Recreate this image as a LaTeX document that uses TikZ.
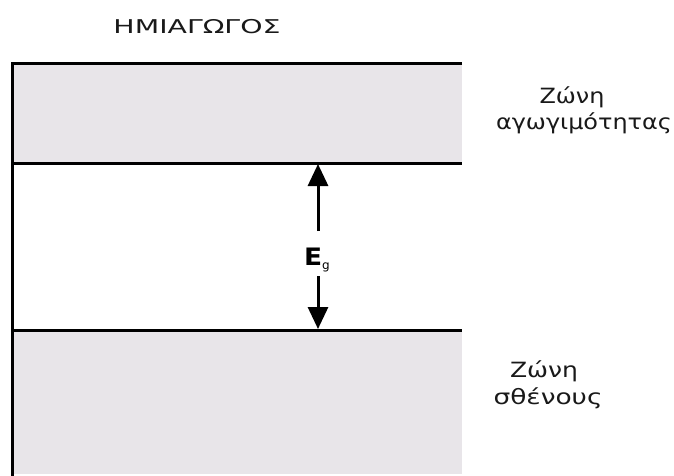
\documentclass[tikz,border=0pt]{standalone}
\usepackage{fontspec}
\setmainfont{DejaVu Sans}
\usetikzlibrary{arrows.meta}
\definecolor{bandgray}{HTML}{E8E5E9}
\tikzset{
  bandline/.style={line width=3pt, black},
  lbl/.style={font=\fontsize{21pt}{23pt}\selectfont, text=black!90, align=center, inner sep=0pt},
  gaparrow/.style={line width=3pt, -{Triangle[length=22pt,width=20pt]}}
}
\begin{document}
\begin{tikzpicture}[x=1pt,y=-1pt]
\useasboundingbox (0,0) rectangle (674,476);
\fill[white] (0,0) rectangle (674,476);
% bands
\fill[bandgray] (12,64) rectangle (462,163);
\fill[bandgray] (12,330) rectangle (462,474);
% lines
\coordinate (tl) at (12,64);
\coordinate (tr) at (462,64);
\coordinate (ml) at (12,163);
\coordinate (mr) at (462,163);
\coordinate (bl) at (12,330);
\coordinate (br) at (462,330);
\coordinate (bot) at (12,476);
\draw[bandline] (tr) -- (tl) -- (bot);
\draw[bandline] (ml) -- (mr);
\draw[bandline] (bl) -- (br);
% title
\node[lbl, font=\fontsize{19pt}{21pt}\selectfont] (title) at (197,27) {\resizebox{167pt}{\height}{ΗΜΙΑΓΩΓΟΣ}};
% labels
\node[lbl] (cb1) at (572,97) {\resizebox{65pt}{\height}{Ζώνη}};
\node[lbl] (cb2) at (584,123) {\resizebox{176pt}{\height}{αγωγιμότητας}};
\node[lbl] (vb1) at (544,371) {\resizebox{68pt}{\height}{Ζώνη}};
\node[lbl] (vb2) at (548,398) {\resizebox{109pt}{\height}{σθένους}};
% Eg
\node[inner sep=0pt] (eg) at (317,260) {\fontsize{24pt}{26pt}\selectfont\bfseries\scalebox{1.1}[1]{E}\raisebox{-4pt}{\fontsize{12pt}{13pt}\selectfont\mdseries g}};
\coordinate (at) at (318,164);
\coordinate (ab) at (318,329);
\coordinate (st) at (318,231);
\coordinate (sb) at (318,276);
\draw[gaparrow] (st) -- (at);
\draw[gaparrow] (sb) -- (ab);
\end{tikzpicture}
\end{document}
